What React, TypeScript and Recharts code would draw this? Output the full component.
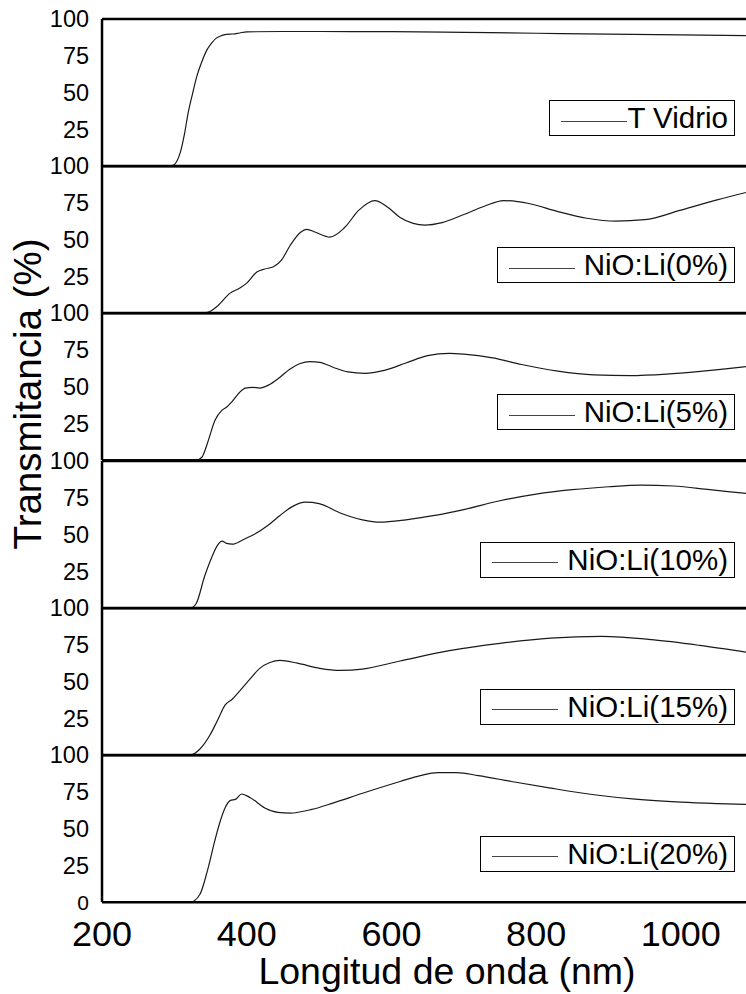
import React from "react"
import {
    LineChart,
    Line,
    XAxis,
    YAxis,
    Legend,
    Label,
    ReferenceLine,
} from "recharts"

// wavelength (nm) / transmittance (%)
const vidrioNm = [200, 290, 298, 303, 308, 314, 319, 325, 331, 338, 345, 352, 358, 365, 372, 381, 390, 400, 450, 500, 600, 700, 800, 900, 1000, 1090]
const vidrioT = [0, 0, 0.5, 3, 9, 22, 36, 49, 61, 71, 79, 84, 87, 88.7, 89.5, 89.8, 90.5, 91.3, 91.5, 91.5, 91.4, 90.9, 90.3, 89.7, 89.2, 88.7]

const li0Nm = [200, 335, 346, 360, 377, 390, 400, 414, 425, 437, 448, 460, 474, 483, 495, 515, 535, 555, 577, 595, 612, 630, 646, 670, 700, 730, 755, 790, 830, 870, 910, 950, 1000, 1050, 1090]
const li0T = [0, 0, 0.5, 5, 13.6, 17, 20.4, 28, 30, 31.5, 36, 46, 54.8, 57, 55, 51.7, 58, 70, 76.5, 72, 65, 61, 59.8, 61.5, 67, 73, 76.5, 74.5, 69, 64.5, 62.5, 63.5, 70, 77, 82]

const li5Nm = [200, 330, 338, 346, 356, 366, 372, 380, 390, 398, 408, 418, 430, 445, 460, 473, 488, 501, 520, 540, 563, 590, 620, 650, 680, 700, 740, 780, 830, 880, 930, 980, 1030, 1090]
const li5T = [0, 0, 2, 12, 27, 34, 36, 40, 46, 49, 49.5, 49, 51, 56, 62, 65.5, 67, 66.5, 63, 60, 59, 61, 66, 71, 72.5, 72, 69.5, 65, 60.5, 58, 57.5, 58.5, 60.5, 63.5]

const li10Nm = [200, 322, 330, 342, 352, 360, 366, 372, 380, 395, 410, 430, 446, 463, 481, 500, 530, 560, 584, 620, 660, 700, 750, 800, 850, 900, 944, 990, 1040, 1090]
const li10T = [0, 0, 3, 22, 35, 43, 45.5, 44, 43.5, 46.5, 50, 56.5, 63, 69, 72, 71, 64.5, 60, 58.4, 60, 63, 67, 73, 77.5, 80.5, 82.5, 83.6, 83, 80.5, 78]

const li15Nm = [200, 322, 335, 349, 360, 370, 380, 391, 405, 418, 432, 446, 470, 501, 529, 560, 612, 680, 750, 820, 890, 960, 1026, 1090]
const li15T = [0, 0, 4, 13.5, 24, 34, 38, 44, 52, 59, 63, 64.4, 62.5, 59, 57.6, 58.5, 64, 71, 76, 79.5, 80.7, 78.5, 74.6, 70]

const li20Nm = [200, 322, 335, 346, 356, 364, 370, 377, 385, 393, 405, 425, 443, 460, 490, 520, 560, 612, 640, 664, 690, 720, 766, 820, 880, 937, 1000, 1050, 1090]
const li20T = [0, 0, 5, 22, 42, 56, 64, 69, 70, 73.5, 71, 64, 61, 60.5, 63, 67.5, 74, 82, 86, 88, 88, 86, 82, 77.5, 73, 70, 68, 67, 66.4]

const seriesNames = ["T Vidrio", "NiO:Li(0%)", "NiO:Li(5%)", "NiO:Li(10%)", "NiO:Li(15%)", "NiO:Li(20%)"]
const seriesNm = [vidrioNm, li0Nm, li5Nm, li10Nm, li15Nm, li20Nm]
const seriesT = [vidrioT, li0T, li5T, li10T, li15T, li20T]

const xTicks = [200, 400, 600, 800, 1000]
const yTicks = [25, 50, 75, 100]
const yTicksBottom = [0, 25, 50, 75, 100]

const FONT = '"Liberation Sans", Arial, sans-serif'
const PLOT_TOP = 19
const PLOT_H = 883 / 6
const TOP_M = 20
const BOT_M = 4
const XAXIS_H = 90
const FRAME = { stroke: "#000", strokeWidth: 2.5 }

function YTick(props: any) {
    const { x, y, payload } = props
    const small = payload.value === 0
    return (
        <text
            x={x}
            y={y}
            dy="0.355em"
            textAnchor="end"
            fontSize={small ? 21 : 23.5}
            fill="#000"
            fontFamily={FONT}
        >
            {payload.value}
        </text>
    )
}

function LegendBox({ name, tight }: { name: string; tight: boolean }) {
    return (
        <div
            style={{
                display: "flex",
                alignItems: "center",
                border: "1px solid #000",
                background: "#fff",
                height: 34,
                paddingLeft: 11,
                paddingRight: 6,
                fontFamily: FONT,
                fontSize: 29.5,
                color: "#000",
                whiteSpace: "nowrap",
            }}
        >
            <div style={{ width: 66, height: 1, background: "#444", marginRight: tight ? 0 : 9, marginTop: 6 }} />
            <span>{name}</span>
        </div>
    )
}

function Panel({ idx }: { idx: number }) {
    const last = idx === seriesNames.length - 1
    const data = seriesNm[idx].map((nm, i) => ({ nm, t: seriesT[idx][i] }))
    return (
        <div style={{ position: "absolute", left: 0, top: PLOT_TOP + idx * PLOT_H - TOP_M }}>
            <LineChart
                width={746}
                height={TOP_M + PLOT_H + (last ? XAXIS_H : BOT_M)}
                data={data}
                margin={{ top: TOP_M, right: 0, bottom: last ? 0 : BOT_M, left: 0 }}
            >
                <XAxis
                    dataKey="nm"
                    type="number"
                    domain={[200, 1090]}
                    allowDataOverflow
                    hide={!last}
                    ticks={xTicks}
                    tick={{ fontSize: 36, fill: "#000", fontFamily: FONT }}
                    tickLine={false}
                    tickSize={0}
                    tickMargin={18}
                    height={XAXIS_H}
                    axisLine={FRAME}
                >
                    <Label
                        value="Longitud de onda (nm)"
                        position="insideBottom"
                        offset={8}
                        dx={23}
                        style={{ fontSize: 37.5, fill: "#000", fontFamily: FONT }}
                    />
                </XAxis>
                <YAxis
                    type="number"
                    domain={[0, 100]}
                    ticks={last ? yTicksBottom : yTicks}
                    width={102}
                    tickLine={false}
                    tickSize={0}
                    tickMargin={13}
                    tick={<YTick />}
                    axisLine={FRAME}
                    interval={0}
                />
                <ReferenceLine y={100} {...FRAME} ifOverflow="visible" />
                {!last && <ReferenceLine y={0} {...FRAME} ifOverflow="visible" />}
                <Legend
                    layout="vertical"
                    align="center"
                    verticalAlign="middle"
                    wrapperStyle={{ top: TOP_M + 81, right: 11, width: "auto" }}
                    content={() => <LegendBox name={seriesNames[idx]} tight={idx === 0} />}
                />
                <Line
                    type="monotone"
                    dataKey="t"
                    name={seriesNames[idx]}
                    stroke="#1a1a1a"
                    strokeWidth={1.2}
                    dot={false}
                    isAnimationActive={false}
                />
            </LineChart>
        </div>
    )
}

export default function App() {
    return (
        <div style={{ position: "absolute", left: 0, top: 0, width: 746, height: 994, background: "#fff", overflow: "hidden" }}>
            {seriesNames.map((_, i) => (
                <Panel key={i} idx={i} />
            ))}
            <div
                style={{
                    position: "absolute",
                    left: 28,
                    top: 394,
                    transform: "translate(-50%, -50%) rotate(-90deg)",
                    fontFamily: FONT,
                    fontSize: 38.5,
                    color: "#000",
                    whiteSpace: "nowrap",
                }}
            >
                Transmitancia (%)
            </div>
        </div>
    )
}
